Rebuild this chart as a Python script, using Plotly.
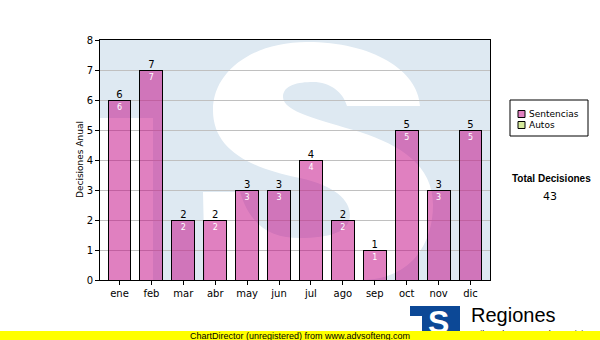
import plotly.graph_objects as go

# ---- data ----
months = ["ene", "feb", "mar", "abr", "may", "jun", "jul", "ago", "sep", "oct", "nov", "dic"]
sentencias = [6, 7, 2, 2, 3, 3, 4, 2, 1, 5, 3, 5]
autos = [0, 0, 0, 0, 0, 0, 0, 0, 0, 0, 0, 0]
y_ticks = [0, 1, 2, 3, 4, 5, 6, 7, 8]
series_names = ["Sentencias", "Autos"]
total_label = "Total Decisiones"

totals = [s + a for s, a in zip(sentencias, autos)]
grand_total = sum(totals)

# ---- geometry helpers (pixel -> paper) ----
PL, PR, PT, PB = 100, 490, 40, 280
def px(x):
    return (x - PL) / (PR - PL)
def py(y):
    return (PB - y) / (PB - PT)

FONT = "DejaVu Sans"
PINK_LEG = "rgb(224,128,192)"
GREEN_LEG = "rgb(214,234,156)"

fig = go.Figure()
fig.add_trace(go.Bar(
    x=months, y=sentencias, name=series_names[0],
    marker=dict(color="rgba(193,1,129,0.5)", line=dict(color="black", width=1)),
    text=[str(v) for v in sentencias], textposition="inside", insidetextanchor="end",
    textangle=0, textfont=dict(color="white", size=8, family=FONT),
    showlegend=False, hoverinfo="skip",
))
fig.add_trace(go.Bar(
    x=months, y=autos, name=series_names[1],
    marker=dict(color=GREEN_LEG, line=dict(color="black", width=1)),
    showlegend=False, hoverinfo="skip",
))
fig.add_trace(go.Scatter(
    x=months, y=totals, mode="text", text=[str(v) for v in totals],
    textposition="top center", textfont=dict(color="black", size=10, family=FONT),
    showlegend=False, hoverinfo="skip", cliponaxis=False,
))

# ---- watermark (big S logo) ----
s_path = [
    ("M", [(347, 106)]),
    ("L", [(420, 106)]),
    ("C", [(418, 70), (372, 42), (307, 42)]),
    ("C", [(252, 42), (213, 72), (213, 110)]),
    ("C", [(213, 150), (250, 168), (300, 178)]),
    ("C", [(335, 186), (350, 200), (350, 215)]),
    ("C", [(350, 232), (330, 238), (300, 238)]),
    ("C", [(270, 238), (250, 225), (240, 192)]),
    ("L", [(203, 192)]),
    ("L", [(205, 280)]),
    ("L", [(360, 280)]),
    ("C", [(410, 280), (433, 245), (433, 205)]),
    ("C", [(433, 165), (400, 145), (360, 132)]),
    ("C", [(320, 120), (283, 112), (283, 97)]),
    ("C", [(283, 85), (298, 82), (313, 82)]),
    ("C", [(330, 82), (343, 92), (347, 106)]),
]
path = ""
for cmd, pts in s_path:
    path += cmd + " " + " ".join(f"{px(x):.4f},{py(y):.4f}" for x, y in pts) + " "
path += "Z"

shapes = [
    dict(type="rect", xref="paper", yref="paper", x0=0, x1=px(153), y0=0, y1=py(118),
         fillcolor="white", line=dict(width=0), layer="below"),
    dict(type="path", xref="paper", yref="paper", path=path,
         fillcolor="white", line=dict(width=0), layer="below"),
    # legend box
    dict(type="rect", xref="paper", yref="paper", x0=px(510), x1=px(588), y0=py(136), y1=py(100),
         fillcolor="white", line=dict(color="black", width=1)),
    dict(type="rect", xref="paper", yref="paper", x0=px(518), x1=px(525), y0=py(117.5), y1=py(110.5),
         fillcolor=PINK_LEG, line=dict(color="black", width=1)),
    dict(type="rect", xref="paper", yref="paper", x0=px(518), x1=px(525), y0=py(128.5), y1=py(121.5),
         fillcolor=GREEN_LEG, line=dict(color="black", width=1)),
    # bottom logo
    dict(type="rect", xref="paper", yref="paper", x0=px(410), x1=px(460), y0=py(332), y1=py(306),
         fillcolor="rgb(12,72,150)", line=dict(width=0)),
    dict(type="rect", xref="paper", yref="paper", x0=px(410), x1=px(422), y0=py(332), y1=py(316),
         fillcolor="white", line=dict(width=0)),
]

annotations = [
    dict(text="Decisiones Anual", x=px(80), y=0.5, xref="paper", yref="paper",
         textangle=-90, showarrow=False, xanchor="center", yanchor="middle",
         font=dict(size=9, family=FONT, color="black")),
    dict(text=series_names[0], x=px(527), y=py(114), xref="paper", yref="paper",
         showarrow=False, xanchor="left", yanchor="middle",
         font=dict(size=9, family=FONT, color="black")),
    dict(text=series_names[1], x=px(527), y=py(125), xref="paper", yref="paper",
         showarrow=False, xanchor="left", yanchor="middle",
         font=dict(size=9, family=FONT, color="black")),
    dict(text="<b>" + total_label + "</b>", x=px(551), y=py(178), xref="paper", yref="paper",
         showarrow=False, xanchor="center", yanchor="middle",
         font=dict(size=10, family="Liberation Sans", color="black")),
    dict(text=str(grand_total), x=px(550), y=py(196), xref="paper", yref="paper",
         showarrow=False, xanchor="center", yanchor="middle",
         font=dict(size=11, family=FONT, color="black")),
    dict(text="<b>S</b>", x=px(438), y=py(322), xref="paper", yref="paper",
         showarrow=False, xanchor="center", yanchor="middle",
         font=dict(size=32, family="Liberation Sans", color="white")),
    dict(text="Regiones", x=px(469), y=py(315), xref="paper", yref="paper",
         showarrow=False, xanchor="left", yanchor="middle",
         font=dict(size=20, family="Liberation Sans", color="black")),
    dict(text="Tribunal Supremo de Justicia", x=px(470), y=py(327), xref="paper", yref="paper",
         showarrow=False, xanchor="left", yanchor="top",
         font=dict(size=9, family="Liberation Sans", color="black")),
    # yellow unregistered band (drawn last, covers text beneath)
    dict(text="ChartDirector (unregistered) from www.advsofteng.com", x=px(300), y=py(335.5),
         xref="paper", yref="paper", showarrow=False, xanchor="center", yanchor="middle",
         width=600, height=9, bgcolor="rgb(255,255,0)", borderpad=0, borderwidth=0,
         font=dict(size=9, family="Liberation Sans", color="black")),
]

fig.update_layout(
    width=600, height=340,
    margin=dict(l=PL, r=600 - PR, t=PT, b=340 - PB, pad=0),
    paper_bgcolor="white", plot_bgcolor="rgb(222,233,242)",
    barmode="stack", bargap=0.28,
    font=dict(family=FONT, size=10, color="black"),
    shapes=shapes, annotations=annotations,
    showlegend=False,
)
fig.update_xaxes(
    showline=True, linecolor="black", linewidth=1, mirror=True,
    ticks="outside", ticklen=4, tickcolor="black", showgrid=False,
    tickfont=dict(size=10, family=FONT, color="black"),
)
fig.update_yaxes(
    range=[0, 8], tickvals=y_ticks, showline=True, linecolor="black", linewidth=1, mirror=True,
    ticks="outside", ticklen=4, tickcolor="black",
    showgrid=True, gridcolor="rgb(192,192,192)", gridwidth=1, zeroline=False,
    tickfont=dict(size=10, family=FONT, color="black"),
)

fig.write_html(
    "out.html",
    config={"displayModeBar": False},
    post_script="document.body.style.margin='0';document.body.style.overflow='hidden';",
)
